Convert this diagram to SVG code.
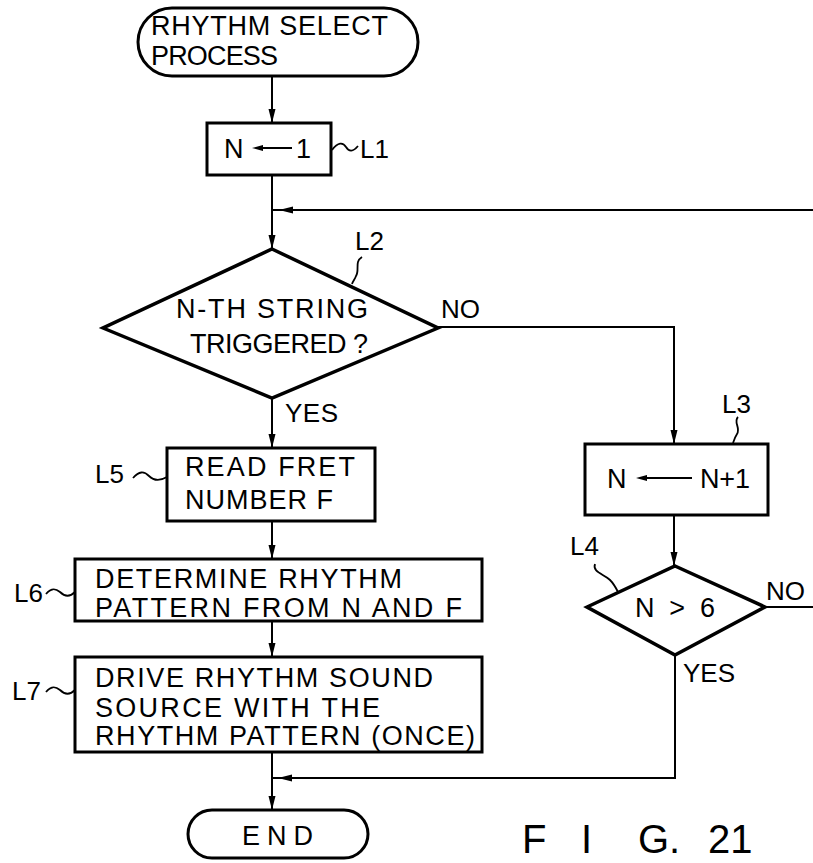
<svg xmlns="http://www.w3.org/2000/svg" width="813" height="863" viewBox="0 0 813 863">
<style>
  .shape { fill: #fff; stroke: #000; stroke-width: 3; }
  .dia { fill: #fff; stroke: #000; stroke-width: 3.5; stroke-linejoin: miter; }
  .line { fill: none; stroke: #000; stroke-width: 2; }
  .thin { fill: none; stroke: #000; stroke-width: 1.8; }
  .ah { fill: #000; stroke: none; }
  text { font-family: "Liberation Sans", Arial, sans-serif; font-size: 27px; fill: #000; }
  .lbl { font-size: 26px; }
  .fig { font-size: 40px; }
</style>
<defs>
  <path id="ahDown" d="M0,0 L-3.5,-14 L3.5,-14 Z"/>
  <path id="ahLeft" d="M0,0 L14,-3.5 L14,3.5 Z"/>
</defs>
<rect width="813" height="863" fill="#fff"/>

<g id="connectors">
  <line class="line" x1="272" y1="76" x2="272" y2="123"/>
  <use href="#ahDown" x="272" y="123" class="ah"/>
  <line class="line" x1="272" y1="175" x2="272" y2="249"/>
  <use href="#ahDown" x="272" y="249" class="ah"/>
  <line class="line" x1="272" y1="210" x2="813" y2="210"/>
  <use href="#ahLeft" x="279" y="210" class="ah"/>
  <line class="line" x1="272" y1="398" x2="272" y2="448"/>
  <use href="#ahDown" x="272" y="448" class="ah"/>
  <polyline class="line" points="438,327 674,327 674,444"/>
  <use href="#ahDown" x="674" y="444" class="ah"/>
  <line class="line" x1="272" y1="521" x2="272" y2="559"/>
  <use href="#ahDown" x="272" y="559" class="ah"/>
  <line class="line" x1="272" y1="621" x2="272" y2="657"/>
  <use href="#ahDown" x="272" y="657" class="ah"/>
  <line class="line" x1="674" y1="515" x2="674" y2="566"/>
  <use href="#ahDown" x="674" y="566" class="ah"/>
  <line class="line" x1="765" y1="607" x2="813" y2="607"/>
  <polyline class="line" points="675,655 675,778 272,778"/>
  <use href="#ahLeft" x="278" y="778" class="ah"/>
  <line class="line" x1="272" y1="752" x2="272" y2="810"/>
  <use href="#ahDown" x="272" y="810" class="ah"/>
</g>

<g id="start">
  <rect class="shape" x="138" y="8" width="280" height="68" rx="34" ry="34"/>
  <text x="151" y="35" textLength="237">RHYTHM SELECT</text>
  <text x="151" y="65" textLength="127">PROCESS</text>
</g>

<g id="L1">
  <rect class="shape" x="207" y="123" width="124" height="52"/>
  <text x="224" y="158" textLength="15">N</text>
  <line class="thin" x1="256" y1="148" x2="292" y2="148"/>
  <path class="ah" d="M252,148 L263,145 L263,151 Z"/>
  <text x="296" y="158" textLength="10">1</text>
  <path class="thin" d="M332,150 C338,142 343,142 346,147 C349,152 353,152 358,146"/>
  <text class="lbl" x="360" y="158">L1</text>
</g>

<g id="L2">
  <polygon class="dia" points="272,249 438,328 272,398 103,328"/>
  <text x="176" y="318" textLength="192">N-TH STRING</text>
  <text x="190" y="353" textLength="178">TRIGGERED ?</text>
  <path class="thin" d="M362,257 C354,262 360,270 356,276 C355,279 353,281 352,284"/>
  <text class="lbl" x="355" y="250">L2</text>
  <text class="lbl" x="441" y="318">NO</text>
  <text class="lbl" x="285" y="422" textLength="53">YES</text>
</g>

<g id="L3">
  <rect class="shape" x="585" y="444" width="183" height="71"/>
  <text x="607" y="488" textLength="17">N</text>
  <line class="thin" x1="640" y1="478" x2="692" y2="478"/>
  <path class="ah" d="M636,478 L647,475 L647,481 Z"/>
  <text x="700" y="488" textLength="50">N+1</text>
  <path class="thin" d="M738,417 C733,422 741,428 737,434 C735,437 734,440 733,443"/>
  <text class="lbl" x="722" y="413">L3</text>
</g>

<g id="L4">
  <polygon class="dia" points="675,566 765,607 675,655 587,607"/>
  <text x="635" y="617" textLength="80">N &gt; 6</text>
  <path class="thin" d="M595,564 C592,572 604,574 610,580 C614,584 616,588 618,592"/>
  <text class="lbl" x="570" y="555">L4</text>
  <text class="lbl" x="766" y="600">NO</text>
  <text class="lbl" x="683" y="682" textLength="52">YES</text>
</g>

<g id="L5">
  <rect class="shape" x="167" y="448" width="208" height="73"/>
  <text x="185" y="476" textLength="170">READ FRET</text>
  <text x="185" y="509" textLength="148">NUMBER F</text>
  <path class="thin" d="M133,478 C139,471 144,471 149,476 C154,481 160,481 167,477"/>
  <text class="lbl" x="95" y="483">L5</text>
</g>

<g id="L6">
  <rect class="shape" x="75" y="559" width="407" height="62"/>
  <text x="95" y="588" textLength="307">DETERMINE RHYTHM</text>
  <text x="95" y="617" textLength="367">PATTERN FROM N AND F</text>
  <path class="thin" d="M46,594 C51,588 55,588 60,592 C65,597 70,597 75,592"/>
  <text class="lbl" x="14" y="602">L6</text>
</g>

<g id="L7">
  <rect class="shape" x="75" y="657" width="407" height="95"/>
  <text x="95" y="687" textLength="338">DRIVE RHYTHM SOUND</text>
  <text x="95" y="717" textLength="285">SOURCE WITH THE</text>
  <text x="95" y="745" textLength="380">RHYTHM PATTERN (ONCE)</text>
  <path class="thin" d="M46,692 C51,686 55,686 60,690 C65,695 70,695 75,690"/>
  <text class="lbl" x="12" y="700">L7</text>
</g>

<g id="end">
  <rect class="shape" x="188" y="810" width="180" height="48" rx="24" ry="24"/>
  <text x="242" y="845" textLength="71">END</text>
</g>

<g id="caption">
  <text class="fig" x="522" y="853">F</text>
  <text class="fig" x="581" y="853">I</text>
  <text class="fig" x="638" y="853">G.</text>
  <text class="fig" x="708" y="853">21</text>
</g>
</svg>
